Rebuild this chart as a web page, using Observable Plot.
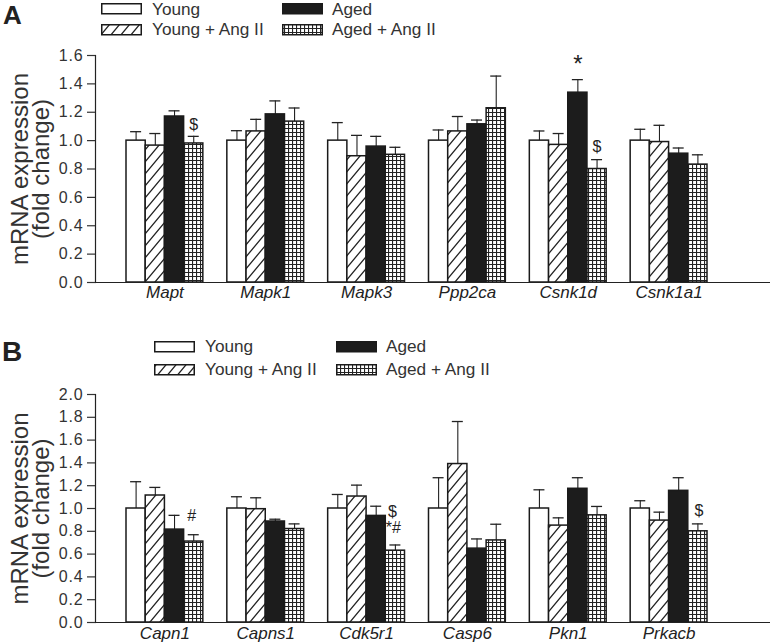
<!DOCTYPE html>
<html><head><meta charset="utf-8">
<script src="https://cdn.jsdelivr.net/npm/d3@7"></script>
<script src="https://cdn.jsdelivr.net/npm/@observablehq/plot@0.6"></script>
<style>
body{margin:0;background:#fff;font-family:"Liberation Sans",Arial,sans-serif;}
#wrap{position:relative;width:771px;height:644px;overflow:hidden;background:#fff}
.panel{position:absolute;left:0}
.panel g[aria-label="y-axis tick label"] text{letter-spacing:0.8px}
#overlay{position:absolute;left:0;top:0;pointer-events:none}
</style></head><body>
<svg width="0" height="0" style="position:absolute">
<defs>
<pattern id="hatch" patternUnits="userSpaceOnUse" width="10" height="12">
<rect width="10" height="12" fill="#fff"/>
<path d="M0,12L10,0M-1,1.2L1,-1.2M9,13.2L11,10.8" stroke="#222" stroke-width="1.3"/>
</pattern>
<pattern id="grid" patternUnits="userSpaceOnUse" width="4" height="4">
<rect width="4" height="4" fill="#fff"/>
<path d="M0.5,0V4M0,0.5H4" stroke="#222" stroke-width="1.2"/>
</pattern>
</defs></svg>
<div id="wrap"></div>
<script>
// ---------- DATA ----------
const series = ["Young", "Young + Ang II", "Aged", "Aged + Ang II"];

// Panel A
const genesA = ["Mapt", "Mapk1", "Mapk3", "Ppp2ca", "Csnk1d", "Csnk1a1"];
const youngA      = [1.00, 1.00, 1.00, 1.00, 1.00, 1.00];
const youngAngA   = [0.965, 1.065, 0.89, 1.065, 0.97, 0.99];
const agedA       = [1.17, 1.185, 0.958, 1.115, 1.338, 0.908];
const agedAngA    = [0.98, 1.134, 0.90, 1.228, 0.80, 0.831];
const youngErrA   = [0.063, 0.07, 0.127, 0.075, 0.068, 0.08];
const youngAngErrA= [0.085, 0.085, 0.147, 0.105, 0.08, 0.118];
const agedErrA    = [0.04, 0.095, 0.072, 0.03, 0.092, 0.04];
const agedAngErrA = [0.05, 0.096, 0.053, 0.227, 0.066, 0.069];
const yTicksA = [0, 0.2, 0.4, 0.6, 0.8, 1.0, 1.2, 1.4, 1.6];
const annotGeneA   = ["Mapt", "Csnk1d", "Csnk1d"];
const annotSeriesA = [3, 2, 3];
const annotYA      = [1.11, 1.535, 0.958];
const annotTextA   = ["$", "*", "$"];

// Panel B
const genesB = ["Capn1", "Capns1", "Cdk5r1", "Casp6", "Pkn1", "Prkacb"];
const youngB      = [1.00, 1.00, 1.00, 1.00, 1.00, 1.00];
const youngAngB   = [1.114, 0.994, 1.105, 1.39, 0.85, 0.894];
const agedB       = [0.815, 0.886, 0.935, 0.648, 1.173, 1.155];
const agedAngB    = [0.71, 0.82, 0.63, 0.72, 0.94, 0.80];
const youngErrB   = [0.235, 0.103, 0.123, 0.27, 0.164, 0.068];
const youngAngErrB= [0.071, 0.10, 0.10, 0.373, 0.068, 0.074];
const agedErrB    = [0.125, 0.02, 0.085, 0.085, 0.097, 0.115];
const agedAngErrB = [0.06, 0.045, 0.05, 0.142, 0.078, 0.065];
const yTicksB = [0, 0.2, 0.4, 0.6, 0.8, 1.0, 1.2, 1.4, 1.6, 1.8, 2.0];
const annotGeneB   = ["Capn1", "Cdk5r1", "Cdk5r1", "Prkacb"];
const annotSeriesB = [3, 3, 3, 3];
const annotYB      = [0.938, 0.969, 0.83, 0.982];
const annotTextB   = ["#", "$", "*#", "$"];
const annotDxB     = [-2, -3, -2, 1];

// ---------- STYLE ----------
const FONT = '"Liberation Sans", Arial, sans-serif';
const fills = ["#fff", "url(#hatch)", "#1c1c1c", "url(#grid)"];

function panel(genes, vals, errs, yMax, yTicks, height, mTop, mBottom, annots, xPad) {
  const rows = [];
  genes.forEach((g, gi) => series.forEach((s, si) =>
    rows.push({gene: g, series: s, si, value: vals[si][gi], err: errs[si][gi]})));
  const range = [126, 707], pin = 0.238;
  const step = (range[1] - range[0]) / (genes.length - pin);
  const w = step * (1 - pin) / 4, cap = 11;
  const marks = [];
  series.forEach((s, si) => {
    const d = rows.filter(r => r.si === si);
    marks.push(Plot.ruleX(d, {x: "gene", y1: "value", y2: r => r.value + r.err,
      dx: (si - 1.5) * w, stroke: "#222", strokeWidth: 1.1}));
    marks.push(Plot.tickY(d, {x: "gene", y: r => r.value + r.err,
      insetLeft: si * w + (w - cap) / 2, insetRight: (3 - si) * w + (w - cap) / 2,
      stroke: "#222", strokeWidth: 1.3}));
    marks.push(Plot.barY(d, {x: "gene", y: "value",
      insetLeft: si * w, insetRight: (3 - si) * w,
      fill: fills[si], stroke: "#1a1a1a", strokeWidth: 1.5}));
  });
  annots.forEach(a => {
    marks.push(Plot.text([a], {x: "gene", y: "y", text: "label",
      dx: (a.si - 1.5) * w + (a.dx || 0), fontSize: a.size, fill: "#222",
      lineAnchor: "middle", textAnchor: "middle"}));
  });
  marks.push(Plot.frame({anchor: "left", stroke: "#222", strokeWidth: 1.2}));
  marks.push(Plot.ruleY([0], {stroke: "#222", strokeWidth: 1.2}));
  marks.push(Plot.axisY({ticks: yTicks, tickFormat: d3.format(".1f"), tickSize: 8,
    tickPadding: 4, fontSize: 16, color: "#333", label: null, strokeWidth: 1.2}));
  marks.push(Plot.axisX({tickSize: 0, tickPadding: xPad, fontSize: 17, fontStyle: "italic",
    fill: "#222", label: null}));
  marks.push(Plot.text(["mRNA expression"], {frameAnchor: "left", rotate: -90, dx: -75,
    fontSize: 24, fill: "#333", lineAnchor: "middle", textAnchor: "middle"}));
  marks.push(Plot.text(["(fold change)"], {frameAnchor: "left", rotate: -90, dx: -54,
    fontSize: 24, fill: "#333", lineAnchor: "middle", textAnchor: "middle"}));
  return Plot.plot({
    width: 771, height, marginTop: mTop, marginBottom: mBottom, marginLeft: 95, marginRight: 1,
    style: {fontFamily: FONT, background: "transparent"},
    x: {type: "band", domain: genes, range, paddingInner: pin, paddingOuter: 0, round: false},
    y: {domain: [0, yMax]},
    marks
  });
}

const annA = annotGeneA.map((g, i) => ({gene: g, si: annotSeriesA[i], y: annotYA[i],
  label: annotTextA[i], size: annotTextA[i] === "*" ? 24 : 16}));
const annB = annotGeneB.map((g, i) => ({gene: g, si: annotSeriesB[i], y: annotYB[i],
  label: annotTextB[i], size: 16, dx: annotDxB[i]}));

const wrap = document.getElementById("wrap");
const pA = panel(genesA, [youngA, youngAngA, agedA, agedAngA],
  [youngErrA, youngAngErrA, agedErrA, agedAngErrA], 1.6, yTicksA, 310, 55, 28, annA, 3);
pA.classList.add("panel"); pA.style.top = "0px";
wrap.appendChild(pA);
const pB = panel(genesB, [youngB, youngAngB, agedB, agedAngB],
  [youngErrB, youngAngErrB, agedErrB, agedAngErrB], 2.0, yTicksB, 334, 84, 22, annB, 4);
pB.classList.add("panel"); pB.style.top = "310px";
wrap.appendChild(pB);

// ---------- Overlay: panel letters & legends ----------
const NS = "http://www.w3.org/2000/svg";
const ov = d3.select(wrap).append("svg").attr("id", "overlay")
  .attr("width", 771).attr("height", 644).attr("xmlns", NS);
ov.append("text").attr("x", 3).attr("y", 24).text("A")
  .attr("font-family", FONT).attr("font-weight", "bold").attr("font-size", 26).attr("fill", "#222");
ov.append("text").attr("x", 2).attr("y", 361).text("B")
  .attr("font-family", FONT).attr("font-weight", "bold").attr("font-size", 28).attr("fill", "#222");

function legend(colX, rowY, textX, baseY) {
  const order = [[0, 0, 0], [2, 1, 0], [1, 0, 1], [3, 1, 1]]; // series, col, row
  order.forEach(([si, c, r]) => {
    ov.append("rect").attr("x", colX[c] + 0.75).attr("y", rowY[r] + 0.75)
      .attr("width", 39.5).attr("height", 10)
      .attr("fill", fills[si]).attr("stroke", "#1a1a1a").attr("stroke-width", 1.5);
    ov.append("text").attr("x", textX[c]).attr("y", baseY[r]).text(series[si])
      .attr("font-family", FONT).attr("font-size", 17.2).attr("fill", "#333");
  });
}
legend([101, 282], [3, 24], [152, 332], [14.5, 35]);
legend([154, 336], [341, 364], [205, 386], [352, 375]);
</script>
</body></html>
